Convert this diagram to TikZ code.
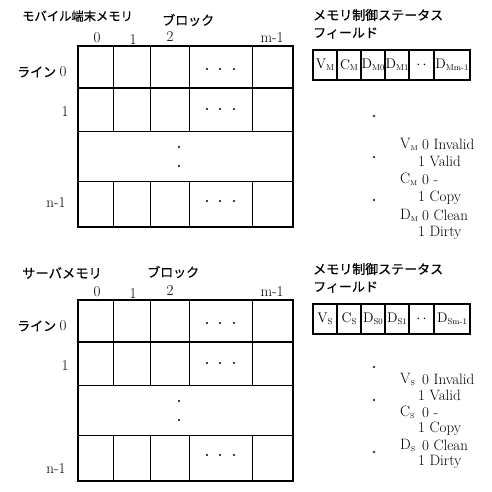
\documentclass[tikz,border=0pt]{standalone}
\usepackage{fontspec}
\newfontfamily\jpfont{Noto Sans CJK JP}[FakeBold=0.5]
\usetikzlibrary{positioning}

\newcommand\lowsub[2][8.5]{\raisebox{-0.3ex}{\fontsize{#1}{9}\selectfont#2}}

\tikzset{
	grid line/.style={line width=1.2pt},
	txt/.style={inner sep=0pt,font=\fontsize{15}{17}\selectfont\addfontfeatures{LetterSpace=2}},
	boxtxt/.style={inner sep=0pt,font=\fontsize{14}{16}\selectfont},
	jtxt/.style={inner sep=0pt,font=\jpfont\fontsize{13}{15}\selectfont},
}

\begin{document}
\begin{tikzpicture}[x=1pt,y=-1pt]

	% definitions
	\def\gl{78}
	\def\gr{293}
	\def\fy{4}
	\def\fh{30}

	\useasboundingbox (0,0) rectangle (492,491);

	\foreach \oy/\s/\ttl/\tsz/\ty/\bx/\by/\ny/\ly/\lsp/\dya/\dyb/\dyc in {%
		46/M/モバイル端末メモリ/12.3/-30/162/-26/157/98/17.8/70/111/154,%
		300/S/サーバメモリ/13.3/-27/147/-28/169/79/16.6/67/100/152}{
	\begin{scope}[shift={(0,\oy)}]

	% memory grid
	\draw[grid line] (\gl,0) rectangle (\gr,181);
	\foreach \yy in {42,85.5,135.5}
		\draw[grid line] (\gl,\yy) -- (\gr,\yy);
	\foreach \xx in {113.5,150.5,189.5,252.5}{
		\draw[grid line] (\xx,0) -- (\xx,85.5);
		\draw[grid line] (\xx,135.5) -- (\xx,181);
	}

	% dots in the cells
	\foreach \yy in {23,63,155}{
		\foreach \xx in {207,220,234}
			\fill (\xx,\yy) circle (1.1);
	}
	\fill (179,101) circle (1.1);
	\fill (179,120) circle (1.1);

	% grid labels
	\node[jtxt,anchor=west,font=\jpfont\fontsize{\tsz}{15}\selectfont] (title\s) at (22,\ty) {\ttl};
	\node[jtxt,anchor=west] (block\s) at (\bx,\by) {ブロック};
	\node[txt] (col0\s) at (97,-8) {0};
	\node[txt] (col1\s) at (133,-6) {1};
	\node[txt] (col2\s) at (170,-9) {2};
	\node[txt] (colm\s) at (272,-8) {m-1};
	\node[jtxt,anchor=west] (line\s) at (17,26) {ライン};
	\node[txt,right=3pt of line\s] (row0\s) {0};
	\node[txt] (row1\s) at (65,66) {1};
	\node[txt] (rown\s) at (56,\ny) {n-1};

	% status field
	\node[jtxt,anchor=west] (status\s) at (313,-31) {メモリ制御ステータス};
	\node[jtxt,anchor=west] (field\s) at (313,-13) {フィールド};
	\foreach \xa/\xb/\fl [count=\i] in {313/337/V\lowsub{\s}, 337/361/C\lowsub{\s}, 361/385/D\lowsub{\s0}, 385/409/D\lowsub{\s1}, 409/434/{$\cdot\,\cdot$}, 434/470/D\lowsub{\s m-1}}{
		\draw[grid line] (\xa,\fy) rectangle (\xb,{\fy+\fh});
		\node[boxtxt] (f\i\s) at ({(\xa+\xb)/2},{\fy+\fh/2}) {\fl};
	}

	% dots below the field
	\foreach \yy in {\dya,\dyb,\dyc}
		\fill (374,\yy) circle (1.1);

	% legend
	\node[txt,anchor=west] (lv\s) at (400,\ly) {V\lowsub[7]{\s}};
	\node[txt,anchor=west] (lv0\s) at (422,\ly) {0 Invalid};
	\node[txt,anchor=west] (lv1\s) at (418,{\ly+\lsp}) {1 Valid};
	\node[txt,anchor=west] (lc\s) at (400,{\ly+2*\lsp}) {C\lowsub[7]{\s}};
	\node[txt,anchor=west] (lc0\s) at (422,{\ly+2*\lsp}) {0 -};
	\node[txt,anchor=west] (lc1\s) at (418,{\ly+3*\lsp}) {1 Copy};
	\node[txt,anchor=west] (ld\s) at (400,{\ly+4*\lsp}) {D\lowsub[7]{\s}};
	\node[txt,anchor=west] (ld0\s) at (422,{\ly+4*\lsp}) {0 Clean};
	\node[txt,anchor=west] (ld1\s) at (418,{\ly+5*\lsp}) {1 Dirty};

	\end{scope}
	}

\end{tikzpicture}
\end{document}
